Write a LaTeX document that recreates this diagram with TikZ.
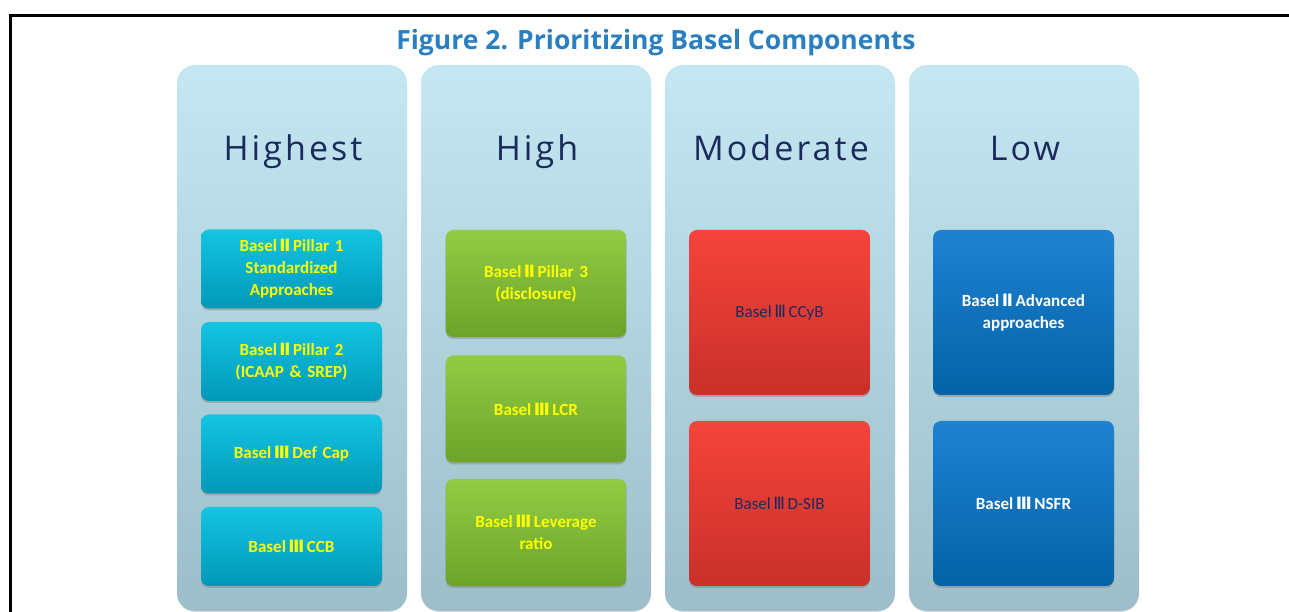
\documentclass[tikz,border=0pt]{standalone}
\usepackage{fontspec}
\setmainfont{Carlito}
\newfontfamily\titlefont{Open Sans}
\newfontfamily\headfont{Open Sans}[LetterSpace=9]
\newfontfamily\numfont{DejaVu Sans}
\usepackage{tikz}
\usetikzlibrary{shadows}

\definecolor{TitleBlue}{HTML}{2A7FC1}
\definecolor{HeadNavy}{HTML}{1B2A5E}
\definecolor{ColTop}{HTML}{C4E7F1}
\definecolor{ColBot}{HTML}{9DBEC8}
\definecolor{CyanTop}{HTML}{14C4E2}
\definecolor{CyanBot}{HTML}{0098B8}
\definecolor{GreenTop}{HTML}{92CC44}
\definecolor{GreenBot}{HTML}{6CA42A}
\definecolor{RedTop}{HTML}{F5443B}
\definecolor{RedBot}{HTML}{C9302A}
\definecolor{BlueTop}{HTML}{1E82D2}
\definecolor{BlueBot}{HTML}{0462A6}
\definecolor{TxtYellow}{HTML}{FFFF00}

% roman numerals as printed
\newcommand{\rII}{\hspace{2.5pt}{\numfont\char"2161}\hspace{2.5pt}}
\newcommand{\rIII}{\hspace{2.5pt}{\numfont\char"2162}\hspace{2.5pt}}

\begin{document}
\begin{tikzpicture}[x=1pt,y=1pt,
				col/.style={rounded corners=18pt,top color=ColTop,bottom color=ColBot,
					minimum width=230pt,minimum height=546pt,inner sep=0pt,
					drop shadow={opacity=0.25,shadow xshift=0pt,shadow yshift=-1pt}},
				head/.style={font=\headfont\fontsize{34}{40}\selectfont,text=HeadNavy,
					anchor=base},
				itm/.style={rounded corners=8pt,minimum width=181pt,inner sep=2pt,
					text width=170pt,align=center,
					font=\bfseries\fontsize{17}{22}\selectfont,
					drop shadow={opacity=0.45,shadow xshift=0pt,shadow yshift=-2pt}},
				cyanbox/.style={itm,top color=CyanTop,bottom color=CyanBot,
					text=TxtYellow,minimum height=79pt},
				greenbox/.style={itm,top color=GreenTop,bottom color=GreenBot,
					text=TxtYellow,minimum height=107pt},
				redbox/.style={itm,top color=RedTop,bottom color=RedBot,
					text=HeadNavy,minimum height=165pt},
				bluebox/.style={itm,top color=BlueTop,bottom color=BlueBot,
					text=white,minimum height=165pt}]

				\useasboundingbox (0,0) rectangle (1289,612);
				% frame
				\draw[line width=2.5pt] (10.5,0) -- (10.5,596.5) -- (1290,596.5);

				\node[font=\titlefont\bfseries\fontsize{26.5}{30}\selectfont,text=TitleBlue]
					(title) at (656,569) {Figure 2. Prioritizing Basel Components};

				%%%%%%%%%%%%%%%%  columns  %%%%%%%%%%%%%%%%
				\node[col] (highest) at (292,274) {};
				\node[col] (high) at (536,274) {};
				\node[col] (moderate) at (780,274) {};
				\node[col] (low) at (1024,274) {};

				\node[head] (hHighest) at (293,451) {Highest};
				\node[head] (hHigh) at (537,451) {High};
				\node[head] (hModerate) at (781,451) {Moderate};
				\node[head] (hLow) at (1025,451) {Low};

				%%%%%%%%%%%%%%%%  highest  %%%%%%%%%%%%%%%%
				\node[cyanbox] (p1) at (291.5,343) {Basel\rII{}Pillar 1\\Standardized\\Approaches};
				\node[cyanbox] (p2) at (291.5,250.5) {Basel\rII{}Pillar 2\\(ICAAP \& SREP)};
				\node[cyanbox] (defcap) at (291.5,158) {Basel\rIII{}Def Cap};
				\node[cyanbox] (ccb) at (291.5,65.5) {Basel\rIII{}CCB};

				%%%%%%%%%%%%%%%%  high  %%%%%%%%%%%%%%%%
				\node[greenbox] (p3) at (536,328.5) {Basel\rII{}Pillar 3\\(disclosure)};
				\node[greenbox] (lcr) at (536,203) {Basel\rIII{}LCR};
				\node[greenbox] (lev) at (536,79.5) {Basel\rIII{}Leverage\\ratio};

				%%%%%%%%%%%%%%%%  moderate  %%%%%%%%%%%%%%%%
				\node[redbox] (ccyb) at (779.5,299.5) {\mdseries Basel\rIII{}CCyB};
				\node[redbox] (dsib) at (779.5,108.5) {\mdseries Basel\rIII{}D-SIB};

				%%%%%%%%%%%%%%%%  low  %%%%%%%%%%%%%%%%
				\node[bluebox] (adv) at (1023.5,299.5) {Basel\rII{}Advanced\\approaches};
				\node[bluebox] (nsfr) at (1023.5,108.5) {Basel\rIII{}NSFR};
\end{tikzpicture}
\end{document}
